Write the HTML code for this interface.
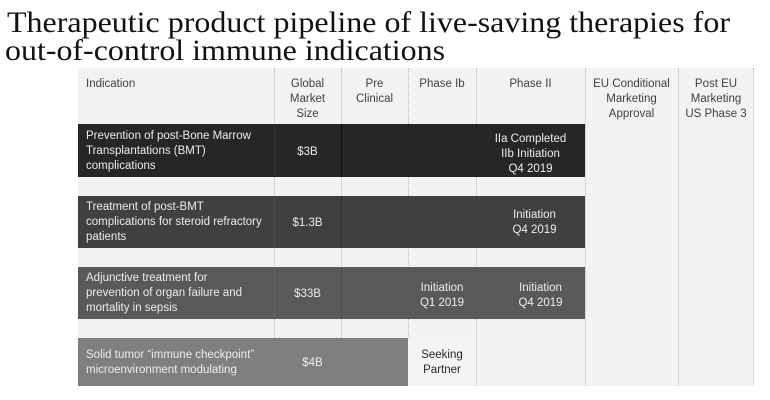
<!DOCTYPE html>
<html><head><meta charset="utf-8"><style>
html,body{margin:0;padding:0;background:#fff;}
body{width:770px;height:400px;position:relative;overflow:hidden;font-family:"Liberation Sans",sans-serif;}
.abs{position:absolute;}
.tbl{left:78px;top:68px;width:676px;height:318px;background:#f2f2f2;}
.vl{position:absolute;top:68px;height:318px;width:0;border-left:1px dotted #b8b8b8;}
.bar{position:absolute;}
.t{position:absolute;font-size:11.5px;line-height:15px;white-space:nowrap;}
.h{color:#404040;text-align:center;}
.w{color:#ececec;}
.c{text-align:center;}
</style></head><body>
<svg class="abs" style="left:0;top:0" width="770" height="68">
<text x="7" y="32" font-family="Liberation Serif, serif" font-size="30" fill="#111" textLength="723" lengthAdjust="spacingAndGlyphs">Therapeutic product pipeline of live-saving therapies for</text>
<text x="5" y="60" font-family="Liberation Serif, serif" font-size="30" fill="#111" textLength="440" lengthAdjust="spacingAndGlyphs">out-of-control immune indications</text>
</svg>
<div class="abs tbl"></div>
<div class="vl" style="left:274px"></div>
<div class="vl" style="left:341px"></div>
<div class="vl" style="left:408px"></div>
<div class="vl" style="left:476px"></div>
<div class="vl" style="left:585px"></div>
<div class="vl" style="left:678px"></div>
<div class="vl" style="left:753px"></div>

<!-- header -->
<div class="t" style="left:86px;top:77px;color:#404040">Indication</div>
<div class="t h" style="left:274px;width:67px;top:77px">Global<br>Market<br>Size</div>
<div class="t h" style="left:341px;width:67px;top:77px">Pre<br>Clinical</div>
<div class="t h" style="left:408px;width:68px;top:77px">Phase Ib</div>
<div class="t h" style="left:476px;width:109px;top:77px">Phase II</div>
<div class="t h" style="left:585px;width:93px;top:77px">EU Conditional<br>Marketing<br>Approval</div>
<div class="t h" style="left:678px;width:76px;top:77px">Post EU<br>Marketing<br>US Phase 3</div>

<!-- row 1 -->
<div class="bar" style="left:78px;top:124px;width:507px;height:53px;background:#262626"></div>
<div class="bar" style="left:274px;top:124px;width:1px;height:53px;background:#333"></div>
<div class="bar" style="left:341px;top:124px;width:1px;height:53px;background:#111"></div>
<div class="t w" style="left:86px;top:129px">Prevention of post-Bone Marrow<br>Transplantations (BMT)<br>complications</div>
<div class="t w c" style="left:274px;width:67px;top:144.5px">$3B</div>
<div class="t w c" style="left:476px;width:109px;top:131.5px">IIa Completed<br>IIb Initiation<br>Q4 2019</div>

<!-- row 2 -->
<div class="bar" style="left:78px;top:196px;width:507px;height:52px;background:#404040"></div>
<div class="bar" style="left:274px;top:196px;width:1px;height:52px;background:#4a4a4a"></div>
<div class="bar" style="left:341px;top:196px;width:1px;height:52px;background:#333"></div>
<div class="t w" style="left:86px;top:199.5px">Treatment of post-BMT<br>complications for steroid refractory<br>patients</div>
<div class="t w c" style="left:274px;width:67px;top:215.5px">$1.3B</div>
<div class="t w c" style="left:480px;width:109px;top:207.5px">Initiation<br>Q4 2019</div>

<!-- row 3 -->
<div class="bar" style="left:78px;top:267px;width:507px;height:52px;background:#595959"></div>
<div class="bar" style="left:274px;top:267px;width:1px;height:52px;background:#616161"></div>
<div class="bar" style="left:341px;top:267px;width:1px;height:52px;background:#4d4d4d"></div>
<div class="t w" style="left:86px;top:271px">Adjunctive treatment for<br>prevention of organ failure and<br>mortality in sepsis</div>
<div class="t w c" style="left:274px;width:67px;top:286.5px">$33B</div>
<div class="t w c" style="left:408px;width:68px;top:280.5px">Initiation<br>Q1 2019</div>
<div class="t w c" style="left:486px;width:109px;top:280.5px">Initiation<br>Q4 2019</div>

<!-- row 4 -->
<div class="bar" style="left:78px;top:338px;width:330px;height:48px;background:#7f7f7f"></div>
<div class="bar" style="left:408px;top:338px;width:68px;height:48px;background:#f4f4f4"></div>
<div class="t w" style="left:86px;top:347.5px">Solid tumor “immune checkpoint”<br>microenvironment modulating</div>
<div class="t w c" style="left:279px;width:67px;top:355.5px">$4B</div>
<div class="t c" style="left:408px;width:68px;top:347.5px;color:#262626">Seeking<br>Partner</div>
</body></html>
